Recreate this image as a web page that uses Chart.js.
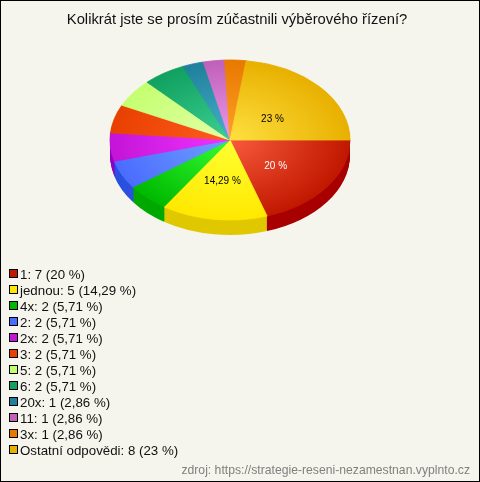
<!DOCTYPE html>
<html>
<head>
<meta charset="utf-8">
<script src="https://cdn.jsdelivr.net/npm/chart.js@4"></script>
<style>
  html, body { margin: 0; padding: 0; background: #f5f5ed; }
  #box { position: relative; width: 480px; height: 482px; box-sizing: border-box; border: 1px solid #000; overflow: hidden; font-family: Arial, "Liberation Sans", sans-serif; }
  #graf { position: absolute; left: -1px; top: -1px; }
  #legenda { position: absolute; left: 8px; top: 266px; margin: 0; padding: 0; list-style: none; font-size: 13.3px; line-height: 16px; color: #111; }
  #legenda li { white-space: nowrap; height: 16px; }
  #legenda i { display: inline-block; width: 7px; height: 7px; border: 1px solid #000; margin-right: 2px; vertical-align: 1px; }
  #zdroj { position: absolute; right: 9px; top: 461px; font-size: 12.2px; line-height: 16px; color: #808080; white-space: nowrap; }
</style>
</head>
<body>
<div id="box">
  <canvas id="graf" width="480" height="482"></canvas>
  <ul id="legenda"></ul>
  <div id="zdroj"></div>
</div>
<script>
const nadpis = 'Kolikrát jste se prosím zúčastnili výběrového řízení?';
const zdroj = 'zdroj: https://strategie-reseni-nezamestnan.vyplnto.cz';
const kategorie = ['1', 'jednou', '4x', '2', '2x', '3', '5', '6', '20x', '11', '3x', 'Ostatní odpovědi'];
const pocty = [7, 5, 2, 2, 2, 2, 2, 2, 1, 1, 1, 8];
const procenta = ['20', '14,29', '5,71', '5,71', '5,71', '5,71', '5,71', '5,71', '2,86', '2,86', '2,86', '23'];

const barvy = ['#c01800', '#ffe800', '#00b800', '#4a6cff', '#c414d8', '#e84000', '#c4ff70', '#10a060', '#1f7f9c', '#c060b8', '#e87800', '#e8b000'];
const svetle = ['#f85a3c', '#ffff33', '#33ff33', '#70a0ff', '#f034ff', '#ff5c20', '#e4ffa8', '#3cd090', '#48b0c8', '#ec98ec', '#ffa028', '#ffe040'];
const tmave = ['#a80000', '#e0c800', '#00a800', '#2a50e0', '#9000c0', '#c03000', '#a0d060', '#0c8050', '#186880', '#9848a0', '#c06000', '#c09000'];
const popisky = ['#fff', '#000', null, null, null, null, null, null, null, null, null, '#000'];

// the pie is drawn flat by Chart.js, this squashes it and adds the side wall
const stred = { x: 230, y: 140 };
const zplosteni = 2 / 3;
const hloubka = 15;
const polomer = 120;

function nastavPohled(ctx, arc, posun) {
  ctx.translate(stred.x, stred.y + posun);
  ctx.scale(1, zplosteni);
  ctx.translate(-arc.x, -arc.y);
}

const pie3d = {
  id: 'pie3d',
  beforeDatasetsDraw(chart) {
    const ctx = chart.ctx;
    const arcs = chart.getDatasetMeta(0).data;
    for (let d = hloubka; d >= 1; d--) {
      arcs.forEach((arc, i) => {
        ctx.save();
        nastavPohled(ctx, arc, d);
        ctx.beginPath();
        ctx.moveTo(arc.x, arc.y);
        ctx.arc(arc.x, arc.y, arc.outerRadius, arc.startAngle, arc.endAngle);
        ctx.closePath();
        ctx.fillStyle = tmave[i];
        ctx.fill();
        ctx.restore();
      });
    }
    ctx.save();
    nastavPohled(ctx, arcs[0], 0);
  },
  afterDatasetsDraw(chart) {
    const ctx = chart.ctx;
    ctx.restore();
    const arcs = chart.getDatasetMeta(0).data;
    ctx.font = '10px Arial, "Liberation Sans", sans-serif';
    ctx.textAlign = 'center';
    ctx.textBaseline = 'middle';
    arcs.forEach((arc, i) => {
      if (!popisky[i]) return;
      const uhel = (arc.startAngle + arc.endAngle) / 2;
      const r = arc.outerRadius * 0.47;
      ctx.fillStyle = popisky[i];
      ctx.fillText(procenta[i] + ' %', stred.x + Math.cos(uhel) * r, stred.y + 4 + Math.sin(uhel) * r * zplosteni);
    });
  }
};

function vypln(c) {
  const area = c.chart.chartArea;
  if (!area) return barvy[c.dataIndex];
  const x = (area.left + area.right) / 2;
  const y = (area.top + area.bottom) / 2;
  const g = c.chart.ctx.createRadialGradient(x, y, 0, x, y, polomer);
  g.addColorStop(0, svetle[c.dataIndex]);
  g.addColorStop(1, barvy[c.dataIndex]);
  return g;
}

new Chart(document.getElementById('graf').getContext('2d'), {
  type: 'pie',
  data: {
    labels: kategorie,
    datasets: [{
      data: pocty,
      radius: polomer,
      rotation: 90,
      clip: false,
      backgroundColor: vypln,
      borderColor: vypln,
      borderWidth: 1
    }]
  },
  options: {
    responsive: false,
    animation: false,
    events: [],
    layout: { padding: { right: 6 } },
    plugins: {
      legend: { display: false },
      tooltip: { enabled: false },
      title: {
        display: true,
        text: nadpis,
        color: '#111',
        font: { family: 'Arial, "Liberation Sans", sans-serif', size: 14.8, weight: 'normal' },
        padding: { top: 11, bottom: 8 }
      }
    }
  },
  plugins: [pie3d]
});

const legenda = document.getElementById('legenda');
kategorie.forEach((k, i) => {
  const li = document.createElement('li');
  const ctverec = document.createElement('i');
  ctverec.style.background = barvy[i];
  li.appendChild(ctverec);
  li.appendChild(document.createTextNode(k + ': ' + pocty[i] + ' (' + procenta[i] + ' %)'));
  legenda.appendChild(li);
});
document.getElementById('zdroj').textContent = zdroj;
</script>
</body>
</html>
